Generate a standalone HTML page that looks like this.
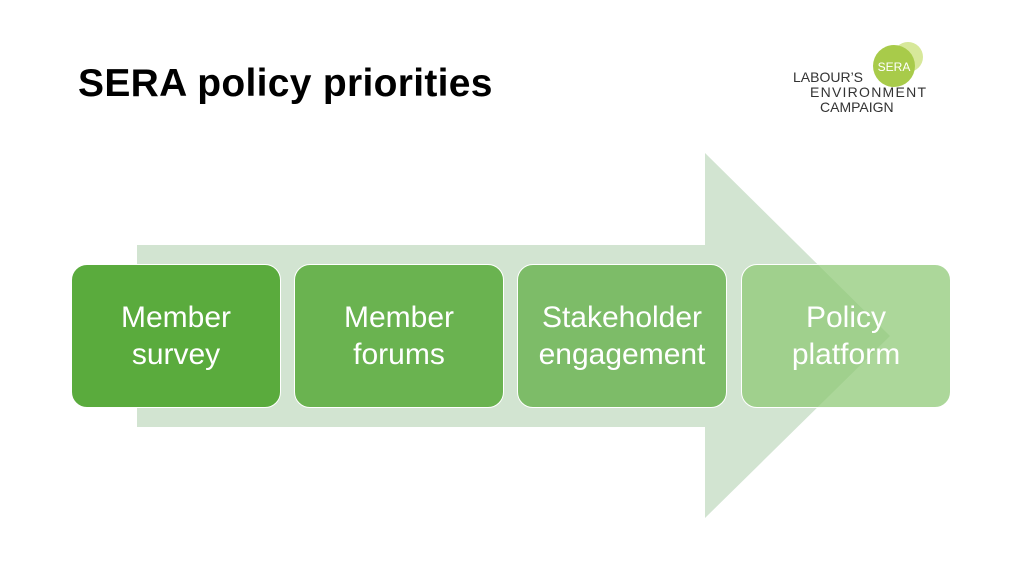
<!DOCTYPE html>
<html><head><style>
body{margin:0;width:1024px;height:576px;background:#fff;position:relative;overflow:hidden;font-family:"Liberation Sans",sans-serif}
.t{position:absolute;left:78px;top:62px;font-size:39px;font-weight:bold;color:#000;letter-spacing:0.3px}
.b{position:absolute;top:264px;width:210px;height:144px;border-radius:16px;box-sizing:border-box;border:1.5px solid #fff;color:#fff;font-size:30px;line-height:37px;display:flex;align-items:center;justify-content:center;text-align:center}
</style></head><body>
<div class="t">SERA policy priorities</div>
<svg width="1024" height="576" style="position:absolute;left:0;top:0">
<polygon points="137,245 705,245 705,153 890,336 705,518 705,427 137,427" fill="#d2e4d1"/>
<circle cx="908" cy="57" r="15" fill="#d7e89a"/>
<circle cx="894" cy="66" r="21" fill="#a8cb4a"/>
<text x="894" y="71" font-size="12" fill="#fff" text-anchor="middle" font-family="Liberation Sans">SERA</text>
<text x="793" y="82" font-size="14" fill="#333" font-family="Liberation Sans">LABOUR’S</text>
<text x="810" y="97" font-size="14" fill="#333" font-family="Liberation Sans" textLength="116">ENVIRONMENT</text>
<text x="820" y="112" font-size="14" fill="#333" font-family="Liberation Sans">CAMPAIGN</text>
</svg>
<div class="b" style="left:71px;background:#5aab3d">Member<br>survey</div>
<div class="b" style="left:294px;background:#6ab350">Member<br>forums</div>
<div class="b" style="left:517px;background:#7dbc68">Stakeholder<br>engagement</div>
<div class="b" style="left:741px;background:rgba(140,200,115,0.72)">Policy<br>platform</div>
</body></html>
